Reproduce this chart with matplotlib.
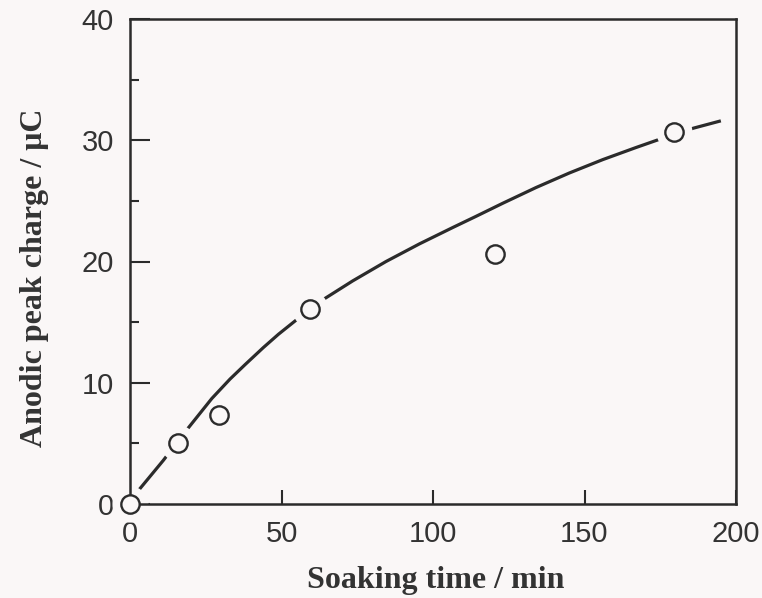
import matplotlib.pyplot as plt
from matplotlib.ticker import MultipleLocator

# measured points
soak_time = [0, 16, 29.5, 59.5, 120.5, 179.5]
peak_charge = [0, 5.0, 7.3, 16.1, 20.6, 30.7]
on_curve = [True, True, False, True, False, True]

# trend curve
curve_time = [0, 2.4, 11, 19, 27, 33, 38, 44, 49, 55, 64, 73.5, 84.5, 95.5,
              106.5, 114, 123, 134, 145, 156, 167, 175, 186, 195]
curve_charge = [0, 1.0, 3.6, 6.2, 8.7, 10.3, 11.5, 12.9, 14.0, 15.2, 16.9, 18.4,
                20.0, 21.45, 22.8, 23.7, 24.8, 26.1, 27.3, 28.4, 29.4, 30.1, 31.0, 31.6]

bg = '#faf7f7'
ink = '#2b2b2b'

fig = plt.figure(figsize=(7.62, 5.98), dpi=100, facecolor=bg)
ax = fig.add_axes([130 / 762, 1 - 504 / 598, 606 / 762, 485 / 598])
ax.set_facecolor(bg)

ax.plot(curve_time, curve_charge, color=ink, lw=2.3, zorder=2,
        solid_capstyle='butt', solid_joinstyle='round')

# white gap round the points the curve runs through
hx = [t for t, c in zip(soak_time, on_curve) if c]
hy = [q for q, c in zip(peak_charge, on_curve) if c]
ax.plot(hx, hy, 'o', ms=26, mfc=bg, mec='none', zorder=2.2, clip_on=False)

ax.plot(soak_time, peak_charge, 'o', ms=13.2, mfc=bg, mec=ink, mew=1.7,
        zorder=3, clip_on=False)

ax.set_xlim(0, 200)
ax.set_ylim(0, 40)
ax.xaxis.set_major_locator(MultipleLocator(50))
ax.yaxis.set_major_locator(MultipleLocator(10))
ax.yaxis.set_minor_locator(MultipleLocator(5))

for s in ax.spines.values():
    s.set_linewidth(1.8)
    s.set_color(ink)

ax.tick_params(axis='both', which='both', direction='in', colors=ink, width=1.5,
               top=False, right=False, pad=11.5, labelsize=21, labelcolor='#333333')
ax.tick_params(axis='x', which='major', length=10)
ax.tick_params(axis='y', which='major', length=14.4)
ax.tick_params(axis='y', which='minor', length=6.5)
for lab in ax.get_xticklabels() + ax.get_yticklabels():
    lab.set_family('Liberation Sans')

ax.set_xlabel('Soaking time / min', family='Liberation Serif', weight='bold',
              fontsize=23, color='#333333')
ax.set_ylabel('Anodic peak charge / μC', family='Liberation Serif', weight='bold',
              fontsize=23, color='#333333')
ax.xaxis.set_label_coords(0.504, -0.128)
ax.yaxis.set_label_coords(-0.134, 0.466)

fig.savefig('out.png', dpi=100, facecolor=bg)
